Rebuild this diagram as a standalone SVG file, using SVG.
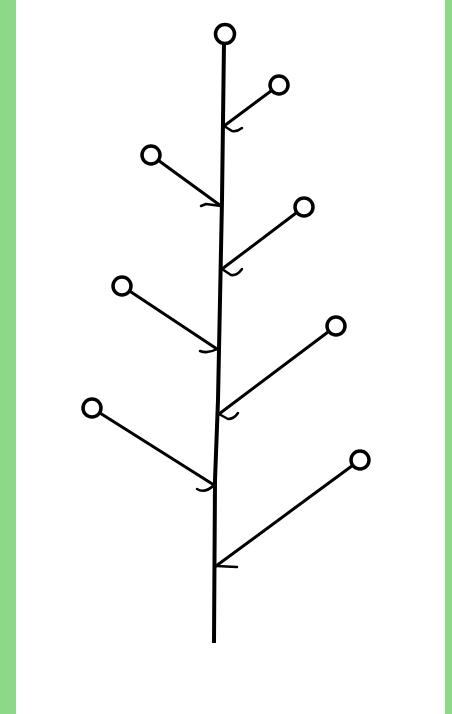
<svg xmlns="http://www.w3.org/2000/svg" width="452" height="714" viewBox="0 0 452 714">
  <style>
    .stem { fill: none; stroke: #000; stroke-width: 4; stroke-linecap: butt; stroke-linejoin: round; }
    .branch { fill: none; stroke: #000; stroke-width: 3; stroke-linecap: round; }
    .hook { fill: none; stroke: #000; stroke-width: 2.5; stroke-linecap: round; stroke-linejoin: round; }
    .node circle { fill: #fff; stroke: #000; stroke-width: 3.5; }
  </style>
  <rect x="0" y="0" width="452" height="714" fill="#8ed88a"/>
  <rect x="16" y="0" width="429" height="714" fill="#fff"/>

  <g id="connectors">
    <polyline class="stem" points="224,42 222,200 218,400 215,480 214,643"/>
    <line class="branch" x1="279" y1="85" x2="224" y2="126"/>
    <path class="hook" d="M224,126 L232,131 Q237,132 242,128"/>
    <line class="branch" x1="151" y1="155" x2="221" y2="206"/>
    <path class="hook" d="M221,206 L206,204 L201,206"/>
    <line class="branch" x1="304" y1="207" x2="222" y2="269"/>
    <path class="hook" d="M222,269 L231,275 Q237,276 242,269"/>
    <line class="branch" x1="122" y1="286" x2="217" y2="349"/>
    <path class="hook" d="M217,349 Q208,354 200,351"/>
    <line class="branch" x1="336" y1="326" x2="219" y2="414"/>
    <path class="hook" d="M219,414 L228,419 Q234,419 238,413"/>
    <line class="branch" x1="92" y1="408" x2="214" y2="485"/>
    <path class="hook" d="M214,485 Q205,494 197,489"/>
    <line class="branch" x1="360" y1="460" x2="216" y2="566"/>
    <path class="hook" d="M216,566 L237,567"/>
  </g>

  <g id="n0" class="node"><circle cx="225" cy="34" r="9.5"/></g>
  <g id="n1" class="node"><circle cx="279" cy="85" r="9"/></g>
  <g id="n2" class="node"><circle cx="151" cy="155" r="9"/></g>
  <g id="n3" class="node"><circle cx="304" cy="207" r="9"/></g>
  <g id="n4" class="node"><circle cx="122" cy="286" r="9"/></g>
  <g id="n5" class="node"><circle cx="336" cy="326" r="9"/></g>
  <g id="n6" class="node"><circle cx="92" cy="408" r="9"/></g>
  <g id="n7" class="node"><circle cx="360" cy="460" r="9"/></g>
</svg>
